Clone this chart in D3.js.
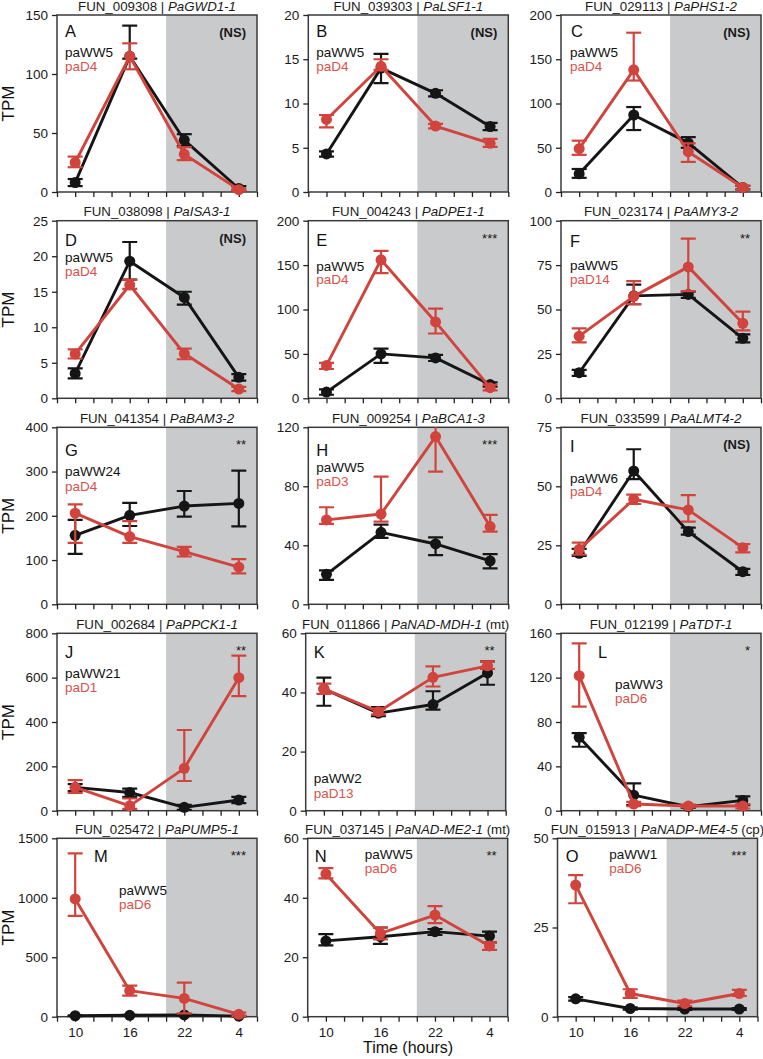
<!DOCTYPE html>
<html><head><meta charset="utf-8">
<script src="https://cdn.jsdelivr.net/npm/d3@7"></script>
<style>
body{margin:0;background:#fff}
svg text{font-family:"Liberation Sans",Arial,sans-serif}
</style>
</head><body>
<svg id="chart" width="763" height="1059"></svg>
<script>
// ---------------- data ----------------
const hours = [10, 16, 22, 28];
const hourLabels = ["10", "16", "22", "4"];
const xTickHours = [8, 10, 12, 14, 16, 18, 20, 22, 24, 26, 28, 30];
const darkStart = 20;

const panelLetters = ["A","B","C","D","E","F","G","H","I","J","K","L","M","N","O"];
const geneIds = ["FUN_009308","FUN_039303","FUN_029113","FUN_038098","FUN_004243","FUN_023174",
  "FUN_041354","FUN_009254","FUN_033599","FUN_002684","FUN_011866","FUN_012199",
  "FUN_025472","FUN_037145","FUN_015913"];
const geneNames = ["PaGWD1-1","PaLSF1-1","PaPHS1-2","PaISA3-1","PaDPE1-1","PaAMY3-2",
  "PaBAM3-2","PaBCA1-3","PaALMT4-2","PaPPCK1-1","PaNAD-MDH-1","PaTDT-1",
  "PaPUMP5-1","PaNAD-ME2-1","PaNADP-ME4-5"];
const geneSuffix = ["","","","","","","","","",""," (mt)","",""," (mt)"," (cp)"];
const wwLabels = ["paWW5","paWW5","paWW5","paWW5","paWW5","paWW5","paWW24","paWW5","paWW6",
  "paWW21","paWW2","paWW3","paWW5","paWW5","paWW1"];
const dLabels = ["paD4","paD4","paD4","paD4","paD4","paD14","paD4","paD3","paD4",
  "paD1","paD13","paD6","paD6","paD6","paD6"];
const sigLabels = ["(NS)","(NS)","(NS)","(NS)","***","**","**","***","(NS)","**","**","*","***","**","***"];

const yTicks = [
  [0,50,100,150],[0,5,10,15,20],[0,50,100,150,200],
  [0,5,10,15,20,25],[0,50,100,150,200],[0,25,50,75,100],
  [0,100,200,300,400],[0,40,80,120],[0,25,50,75],
  [0,200,400,600,800],[0,20,40,60],[0,40,80,120,160],
  [0,500,1000,1500],[0,20,40,60],[0,25,50]
];

const wwMean = [
  [8,115,44,3],[4.3,14,11.15,7.4],[20.5,87,55.5,5],
  [3.5,19.3,14.2,2.95],[7,50,45.5,15.5],[14.4,57.7,58.5,33.8],
  [156,201,222,228],[20.3,48.8,40.9,29.4],[21.6,56.5,30.8,13.8],
  [105,82,15,48],[41.2,33,35.9,46.6],[66.2,14,3.6,9.3],
  [8,12,15,5],[25.5,26.9,28.6,27.1],[5,2.3,2.15,2.15]
];
const wwLo = [
  [5,113,39,1],[4.0,12.3,10.8,7.0],[16,70,50,3],
  [2.8,16.7,13.2,2.5],[4,40,42,13],[12.6,53,56.5,31.5],
  [114,177,198,176],[16.5,45,33.4,24.4],[20.5,53,29.5,12.5],
  [88,62,4,34],[35.5,32,34.2,42.6],[57.7,5,2.5,5],
  [4,8,10,2],[24,24.5,27.5,25],[4.5,2,1.9,1.9]
];
const wwHi = [
  [11,141,49,5],[4.6,15.6,11.5,7.8],[26,96,62,7],
  [4.2,22,15,3.4],[10,56,49,18],[16,64,60,36],
  [191,229,256,302],[23,54,45.4,34],[23.5,65.7,32.5,15],
  [120,100,26,62],[45,35,40.4,50.5],[70,24.7,4.5,13],
  [12,16,20,8],[27.8,30,29.5,28.6],[5.5,2.6,2.4,2.4]
];
const dMean = [
  [25,115,32,2],[8.2,14.2,7.45,5.5],[49,138,45.5,5],
  [6.25,15.95,6.3,1.3],[37,156,86,12],[35,57.4,74,42.2],
  [206,153,119,84],[57.2,61.2,113.7,52.7],[23.3,44.5,40,24],
  [105,22,191,600],[41.2,33.5,45.1,49],[121.8,6,4.2,4.2],
  [990,219,154,20],[48,28,34.2,23.8],[36.9,6.5,3.7,6.5]
];
const dLo = [
  [21,104,27,1],[7.3,13.8,7.2,5.1],[42,126,34,3],
  [5.6,15.4,5.5,1.0],[33,141,73,9],[31.5,53,60.4,38.3],
  [139,139,108,70],[54.5,56,90,49.3],[21,42.5,35,22],
  [80,8,134,517],[39.5,32.5,42,48],[93.8,4,3,2],
  [847,177,28,5],[46.5,26,31.5,22.5],[31.8,5.3,3,5.8]
];
const dHi = [
  [30,126,38,3],[8.7,15.0,7.7,6.0],[58,180,55,7],
  [6.9,16.7,7.0,1.6],[40,166,101,15],[39.4,66,89.9,48.8],
  [226,188,130,102],[65.8,86.6,125,60.6],[26.1,46.5,46.3,25.5],
  [138,55,364,699],[43,34.5,48.8,50.5],[151,8,5.5,6],
  [1374,261,286,35],[50,30,37.2,25],[39.7,7.7,4.5,7.5]
];

// ---------------- layout ----------------
const rowTop = [15, 220.7, 427.3, 633.3, 838.3];
const rowBottom = [192, 398.3, 604.3, 810.7, 1016.7];
const panelLeft = [57,308.3,561, 57,308.3,561, 57,308.3,561, 57,305.7,561, 57,307.7,557.5];
const panelW = 200;
// [letterDx, letterDy, legendDx, legendDy1, legendDy2]
const legendPos = [
  [8,22,8,42,55.7],[8,22,8,42,55.7],[10,22,9,42,55.7],
  [8,25,8,41.7,55.2],[8,25,8,50,63.7],[9,26,9,49.3,63.7],
  [8,28.3,8,48.7,63.7],[8,28.3,8,44.3,58.7],[9,24.3,9,55.3,68.7],
  [8,24.3,8,45,58.5],[8,24.3,8,150,164.3],[37,24.3,54,55.7,70],
  [37,23.3,62,56.7,71],[7,23.3,57,21,35],[8.3,23.3,51.7,21,35]
];

const BLACK = "#151515", RED = "#d0443d", REDTXT = "#d9524b", GRAY = "#c9cacc";

const svg = d3.select("#chart");
const defs = svg.append("defs");

panelLetters.forEach((letter, i) => {
  const row = Math.floor(i / 3), col = i % 3;
  const left = panelLeft[i], top = rowTop[row], bottom = rowBottom[row];
  const x = d3.scaleLinear().domain([8, 30]).range([left, left + panelW]);
  const ticks = yTicks[i];
  const y = d3.scaleLinear().domain([0, ticks[ticks.length - 1]]).range([bottom, top]);
  const g = svg.append("g");

  defs.append("clipPath").attr("id", "clip" + i).append("rect")
    .attr("x", left - 20).attr("y", top).attr("width", panelW + 40).attr("height", bottom - top + 20);

  // dark period shading
  g.append("rect").attr("x", x(darkStart)).attr("y", top)
    .attr("width", x(30) - x(darkStart)).attr("height", bottom - top).attr("fill", GRAY);

  // frame
  g.append("rect").attr("x", left).attr("y", top).attr("width", panelW).attr("height", bottom - top)
    .attr("fill", "none").attr("stroke", "#3a3a3a").attr("stroke-width", 1.5);

  // axes
  const ya = g.append("g").attr("transform", `translate(${left},0)`)
    .call(d3.axisLeft(y).tickValues(ticks).tickSize(5).tickPadding(4).tickFormat(d3.format("d")));
  ya.select(".domain").remove();
  ya.selectAll("line").attr("stroke", "#222").attr("stroke-width", 1.3);
  ya.selectAll("text").attr("font-size", 13.5).attr("fill", "#1a1a1a")
    .style("font-family", '"Liberation Sans",Arial,sans-serif');

  const isBottom = row === 4;
  const xa = g.append("g").attr("transform", `translate(0,${bottom})`)
    .call(d3.axisBottom(x).tickValues(xTickHours).tickSize(5).tickPadding(6)
      .tickFormat(d => {
        const k = hours.indexOf(d);
        return isBottom && k >= 0 ? hourLabels[k] : "";
      }));
  xa.select(".domain").remove();
  xa.selectAll("line").attr("stroke", "#222").attr("stroke-width", 1.3);
  xa.selectAll("text").attr("font-size", 13.5).attr("fill", "#1a1a1a")
    .style("font-family", '"Liberation Sans",Arial,sans-serif');

  // title
  const t = g.append("text").attr("x", left + panelW / 2).attr("y", top - 4.5)
    .attr("text-anchor", "middle").attr("font-size", 13.3).attr("fill", "#1a1a1a");
  t.append("tspan").text(geneIds[i] + " | ");
  t.append("tspan").attr("font-style", "italic").text(geneNames[i]);
  if (geneSuffix[i]) t.append("tspan").text(geneSuffix[i]);

  // significance
  const sig = sigLabels[i];
  g.append("text").attr("x", left + panelW - 11).attr("y", top + 22)
    .attr("text-anchor", "end").attr("font-size", 13)
    .attr("font-weight", sig === "(NS)" ? "bold" : "normal")
    .attr("fill", "#1a1a1a").text(sig);

  // series
  const series = [
    {mean: wwMean[i], lo: wwLo[i], hi: wwHi[i], color: BLACK},
    {mean: dMean[i], lo: dLo[i], hi: dHi[i], color: RED}
  ];
  const line = d3.line().x((d, k) => x(hours[k])).y(d => y(d));
  series.forEach(s => {
    const eg = g.append("g").attr("clip-path", `url(#clip${i})`);
    hours.forEach((h, k) => {
      const cx = x(h);
      eg.append("line").attr("x1", cx).attr("x2", cx).attr("y1", y(s.lo[k])).attr("y2", y(s.hi[k]))
        .attr("stroke", s.color).attr("stroke-width", 2.2);
      [s.lo[k], s.hi[k]].forEach(v => {
        eg.append("line").attr("x1", cx - 7.5).attr("x2", cx + 7.5).attr("y1", y(v)).attr("y2", y(v))
          .attr("stroke", s.color).attr("stroke-width", 2.2);
      });
    });
    g.append("path").datum(s.mean).attr("d", line).attr("fill", "none")
      .attr("stroke", s.color).attr("stroke-width", 2.9).attr("stroke-linejoin", "round");
    g.selectAll(null).data(s.mean).enter().append("circle")
      .attr("cx", (d, k) => x(hours[k])).attr("cy", d => y(d)).attr("r", 5.5).attr("fill", s.color);
  });

  // panel letter & legend
  const lp = legendPos[i];
  g.append("text").attr("x", left + lp[0]).attr("y", top + lp[1]).attr("font-size", 16.5)
    .attr("fill", "#111").text(letter);
  g.append("text").attr("x", left + lp[2]).attr("y", top + lp[3]).attr("font-size", 13.5)
    .attr("fill", "#111").text(wwLabels[i]);
  g.append("text").attr("x", left + lp[2]).attr("y", top + lp[4]).attr("font-size", 13.5)
    .attr("fill", REDTXT).text(dLabels[i]);

  // y label
  if (col === 0) {
    svg.append("text").attr("transform", `translate(14,${(top + bottom) / 2}) rotate(-90)`)
      .attr("text-anchor", "middle").attr("font-size", 17).attr("fill", "#111").text("TPM");
  }
});

svg.append("text").attr("x", 408).attr("y", 1053).attr("text-anchor", "middle")
  .attr("font-size", 16).attr("fill", "#111").text("Time (hours)");
</script>
</body></html>
